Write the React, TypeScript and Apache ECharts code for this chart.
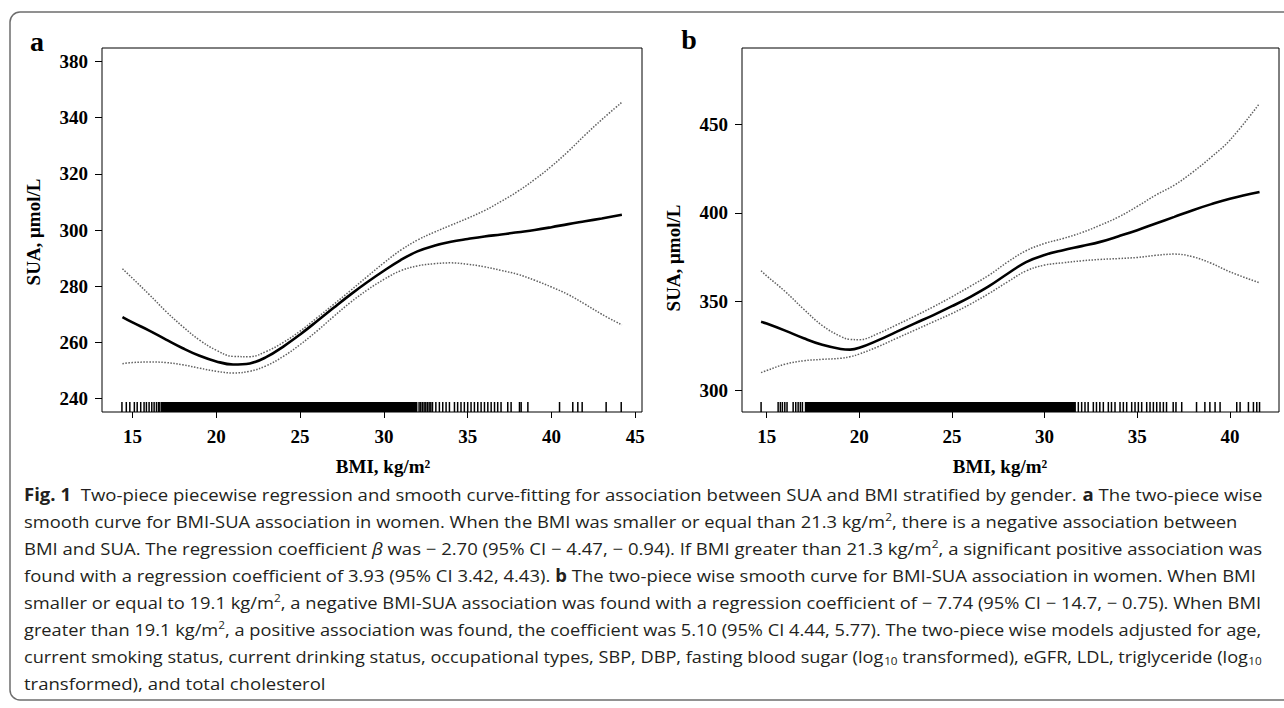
import React, { useEffect, useRef } from "react";
import * as echarts from "echarts";

// ---------- Data ----------
// Panel a (women)
const BMI_A = [14.4, 15, 16, 17, 18, 19, 20, 21, 22, 23, 24, 25, 26, 27, 28, 29, 30, 31, 32, 33, 34, 35, 36, 37, 38, 39, 40, 41, 42, 43, 44.2];
const FIT_A = [269.0, 267.1, 264.2, 261.0, 257.9, 255.2, 253.2, 252.1, 252.5, 254.8, 258.5, 262.8, 267.5, 272.3, 277.0, 281.4, 285.5, 289.3, 292.4, 294.4, 295.8, 296.8, 297.7, 298.4, 299.2, 300.0, 301.0, 302.1, 303.1, 304.1, 305.4];
const UPPER_A = [286.2, 282.8, 277.0, 271.0, 265.6, 260.8, 257.2, 255.0, 254.9, 256.8, 260.0, 264.0, 268.7, 273.5, 278.4, 283.4, 288.3, 292.8, 296.4, 299.2, 301.7, 304.2, 306.9, 310.2, 313.8, 318.0, 322.7, 328.0, 333.8, 339.3, 345.5];
const LOWER_A = [252.4, 252.8, 253.0, 252.8, 252.0, 250.8, 249.7, 249.1, 249.7, 251.7, 255.0, 259.2, 264.0, 269.2, 274.2, 278.6, 282.4, 285.5, 287.2, 288.0, 288.3, 287.8, 286.9, 285.6, 284.2, 282.1, 279.7, 277.0, 273.6, 270.0, 266.2];
const RUG_A = [14.37, 14.63, 14.84, 15.11, 15.28, 15.49, 15.69, 15.83, 15.99, 16.15, 16.29, 16.43, 16.55, 16.63,
  32.1, 32.2, 32.3, 32.4, 32.5, 32.6, 32.7, 32.8, 32.9, 33.1, 33.31, 33.51, 33.71, 33.91, 34.21, 34.4, 34.6, 34.8, 35.0, 35.2, 35.4, 35.6, 35.8, 36.0, 36.2, 36.4, 36.6, 36.79, 36.99, 37.39, 37.59, 38.09, 38.19, 38.59, 40.48, 41.27, 41.57, 41.83, 43.26, 44.16];
const RUG_BLOCK_A = [[16.7, 32.0]];
const X_TICKS_A = [15, 20, 25, 30, 35, 40, 45];
const Y_TICKS_A = [240, 260, 280, 300, 320, 340, 360];
const Y_LABELS_A = ["240", "260", "280", "300", "320", "340", "380"];

// Panel b
const BMI_B = [14.7, 15, 16, 17, 18, 19, 19.5, 20, 21, 22, 23, 24, 25, 26, 27, 28, 29, 30, 31, 32, 33, 34, 35, 36, 37, 38, 39, 40, 41.6];
const FIT_B = [338.5, 337.5, 333.5, 329.2, 325.5, 323.2, 322.8, 323.8, 328.0, 332.8, 337.6, 342.3, 347.3, 352.6, 358.6, 365.6, 372.2, 376.2, 378.9, 381.2, 383.6, 386.8, 390.2, 394.0, 397.7, 401.5, 404.9, 407.9, 411.7];
const UPPER_B = [367.3, 364.4, 355.6, 345.6, 336.4, 330.2, 328.6, 328.4, 331.8, 336.7, 341.7, 347.0, 352.6, 358.6, 364.8, 372.2, 378.6, 382.7, 385.5, 388.8, 393.0, 397.7, 403.6, 410.0, 415.6, 423.0, 431.5, 441.0, 461.7];
const LOWER_B = [309.8, 311.0, 314.6, 316.5, 317.3, 317.9, 318.8, 320.3, 324.4, 329.1, 333.8, 338.5, 343.2, 348.5, 354.5, 361.0, 367.2, 370.5, 371.8, 372.9, 373.7, 374.2, 374.8, 376.0, 376.7, 375.2, 371.5, 366.7, 360.5];
const RUG_B = [14.7, 15.62, 15.74, 15.85, 15.98, 16.1, 16.43, 16.57, 16.7, 16.82, 16.93,
  31.82, 32.0, 32.18, 32.35, 32.63, 32.8, 32.98, 33.17, 33.44, 33.61, 33.8, 34.07, 34.25, 34.43, 34.7, 34.88, 35.06, 35.24, 35.51, 35.69, 35.87, 36.05, 36.23, 36.41, 36.58, 36.94, 37.09, 37.4, 38.2, 38.65, 38.92, 39.2, 39.47, 40.37, 40.55, 41.0, 41.27, 41.45, 41.6];
const RUG_BLOCK_B = [[17.06, 31.69]];
const X_TICKS_B = [15, 20, 25, 30, 35, 40];
const Y_TICKS_B = [300, 350, 400, 450];
const Y_LABELS_B = ["300", "350", "400", "450"];

const CAPTION_LINES = [
  "{b|Fig. 1}  Two-piece piecewise regression and smooth curve-fitting for association between SUA and BMI stratified by gender. {b|a} The two-piece wise",
  "smooth curve for BMI-SUA association in women. When the BMI was smaller or equal than 21.3 kg/m{sup|2}, there is a negative association between",
  "BMI and SUA. The regression coefficient {i|β} was − 2.70 (95% CI − 4.47, − 0.94). If BMI greater than 21.3 kg/m{sup|2}, a significant positive association was",
  "found with a regression coefficient of 3.93 (95% CI 3.42, 4.43). {b|b} The two-piece wise smooth curve for BMI-SUA association in women. When BMI",
  "smaller or equal to 19.1 kg/m{sup|2}, a negative BMI-SUA association was found with a regression coefficient of − 7.74 (95% CI − 14.7, − 0.75). When BMI",
  "greater than 19.1 kg/m{sup|2}, a positive association was found, the coefficient was 5.10 (95% CI 4.44, 5.77). The two-piece wise models adjusted for age,",
  "current smoking status, current drinking status, occupational types, SBP, DBP, fasting blood sugar (log{sub|10} transformed), eGFR, LDL, triglyceride (log{sub|10}",
  "transformed), and total cholesterol",
];

// ---------- Layout / styling ----------
const CAP_LEFT = 24;
const CAP_RIGHT_EDGES = [1262, 1238, 1262, 1256, 1262, 1262, 1262, 0];
const SERIF = "'Liberation Serif', 'Times New Roman', serif";
const CAP_FONT = "'Open Sans', 'Noto Sans', sans-serif";
const CAP_SIZE = 17;
const CAP_SUB = 11;
const CAP_COLOR = "#231f20";

function fontFor(tag: string) {
  if (tag === "b") return `bold ${CAP_SIZE}px ${CAP_FONT}`;
  if (tag === "i") return `italic ${CAP_SIZE}px ${CAP_FONT}`;
  if (tag === "sup" || tag === "sub") return `${CAP_SUB}px ${CAP_FONT}`;
  return `${CAP_SIZE}px ${CAP_FONT}`;
}

function measureLine(line: string) {
  const c = document.createElement("canvas").getContext("2d");
  if (!c) return 1;
  const m = (t: string, tag: string) => {
    c.font = fontFor(tag);
    return c.measureText(t).width;
  };
  const re = /\{(\w+)\|([^}]*)\}/g;
  let last = 0;
  let w = 0;
  let r: RegExpExecArray | null;
  while ((r = re.exec(line))) {
    w += m(line.slice(last, r.index), "n");
    w += m(r[2], r[1]);
    last = re.lastIndex;
  }
  w += m(line.slice(last), "n");
  return w;
}

const zip = (xs: number[], ys: number[]) => xs.map((x, i) => [x, ys[i]]);

function makeLabelFormatter(ticks: number[], labels: string[]) {
  return (v: number) => {
    const i = ticks.findIndex((t) => Math.abs(t - v) < 1e-6);
    return i >= 0 ? labels[i] : "";
  };
}

export default function App() {
  const ref = useRef<HTMLDivElement>(null);

  useEffect(() => {
    if (!ref.current) return;
    const chart = echarts.init(ref.current, undefined, { renderer: "svg" });

    const baseScale = (CAP_RIGHT_EDGES[0] - CAP_LEFT) / measureLine(CAPTION_LINES[0]);
    const scales = CAPTION_LINES.map((line, i) =>
      CAP_RIGHT_EDGES[i] > 0 ? (CAP_RIGHT_EDGES[i] - CAP_LEFT) / measureLine(line) : baseScale
    );

    const tickLabel = {
      color: "#000",
      fontFamily: SERIF,
      fontWeight: "bold" as const,
      fontSize: 19,
    };

    const xAxisBase = (gridIndex: number, min: number, max: number, ticks: number[]) => ({
      type: "value" as const,
      gridIndex,
      min,
      max,
      axisLine: { show: false },
      splitLine: { show: false },
      axisTick: { show: true, length: 6, customValues: ticks, lineStyle: { color: "#000", width: 1 } },
      axisLabel: { ...tickLabel, margin: 15, customValues: ticks },
    });
    const yAxisBase = (gridIndex: number, min: number, max: number, ticks: number[], labels: string[]) => ({
      type: "value" as const,
      gridIndex,
      min,
      max,
      axisLine: { show: false },
      splitLine: { show: false },
      axisTick: { show: true, length: 7, customValues: ticks, lineStyle: { color: "#000", width: 1 } },
      axisLabel: { ...tickLabel, margin: 14, customValues: ticks, formatter: makeLabelFormatter(ticks, labels) },
    });

    const lineSeries = (idx: number, xs: number[], ys: number[], dotted: boolean) => ({
      type: "line" as const,
      xAxisIndex: idx,
      yAxisIndex: idx,
      data: zip(xs, ys),
      showSymbol: false,
      smooth: 0.4,
      silent: true,
      lineStyle: dotted
        ? { color: "#606060", width: 1.5, type: "dotted" as const }
        : { color: "#000", width: 2.6 },
      z: dotted ? 3 : 4,
    });

    const rugSeries = (idx: number, vals: number[], yRef: number) => ({
      type: "custom" as const,
      xAxisIndex: idx,
      yAxisIndex: idx,
      silent: true,
      data: vals.map((v) => [v, yRef]),
      encode: { x: 0, y: 1 },
      renderItem: (params: any, api: any) => {
        const cs = params.coordSys;
        const x = api.coord([api.value(0), api.value(1)])[0];
        const bottom = cs.y + cs.height;
        return {
          type: "line",
          shape: { x1: x, y1: bottom, x2: x, y2: bottom - 10 },
          style: { stroke: "#000", lineWidth: 1.5 },
        };
      },
    });

    const blockSeries = (idx: number, blocks: number[][], yRef: number) => ({
      type: "custom" as const,
      xAxisIndex: idx,
      yAxisIndex: idx,
      silent: true,
      data: blocks.map((b) => [b[0], b[1], yRef]),
      encode: { x: [0, 1], y: 2 },
      renderItem: (params: any, api: any) => {
        const cs = params.coordSys;
        const x1 = api.coord([api.value(0), api.value(2)])[0];
        const x2 = api.coord([api.value(1), api.value(2)])[0];
        const bottom = cs.y + cs.height;
        return {
          type: "rect",
          shape: { x: x1, y: bottom - 10, width: x2 - x1, height: 10 },
          style: { fill: "#000" },
        };
      },
    });

    const axisTitle = {
      fontFamily: SERIF,
      fontWeight: "bold",
      fontSize: 19,
      fill: "#000",
      align: "center",
      verticalAlign: "middle",
    };

    const capRich = {
      b: { fontFamily: CAP_FONT, fontSize: CAP_SIZE, fontWeight: "bold", lineHeight: 20, fill: CAP_COLOR },
      i: { fontFamily: CAP_FONT, fontSize: CAP_SIZE, fontStyle: "italic", lineHeight: 20, fill: CAP_COLOR },
      sup: { fontFamily: CAP_FONT, fontSize: CAP_SUB, lineHeight: 8, verticalAlign: "top", fill: CAP_COLOR },
      sub: { fontFamily: CAP_FONT, fontSize: CAP_SUB, lineHeight: 8, verticalAlign: "bottom", fill: CAP_COLOR },
    };

    const captionEls = CAPTION_LINES.map((line, i) => ({
      type: "text",
      x: CAP_LEFT,
      y: 494 + i * 27,
      scaleX: scales[i],
      silent: true,
      style: {
        text: line,
        fontFamily: CAP_FONT,
        fontSize: CAP_SIZE,
        lineHeight: 20,
        fill: CAP_COLOR,
        align: "left",
        verticalAlign: "middle",
        rich: capRich,
      },
    }));

    chart.setOption({
      animation: false,
      backgroundColor: "#fff",
      grid: [
        { left: 102, top: 48, width: 540, height: 364, show: true, borderColor: "#000", borderWidth: 1, backgroundColor: "transparent", outerBoundsMode: "none" },
        { left: 742, top: 48, width: 537, height: 364, show: true, borderColor: "#000", borderWidth: 1, backgroundColor: "transparent", outerBoundsMode: "none" },
      ],
      xAxis: [xAxisBase(0, 13.18, 45.4, X_TICKS_A), xAxisBase(1, 13.67, 42.65, X_TICKS_B)],
      yAxis: [
        yAxisBase(0, 235.2, 364.8, Y_TICKS_A, Y_LABELS_A),
        yAxisBase(1, 287.6, 493.0, Y_TICKS_B, Y_LABELS_B),
      ],
      series: [
        blockSeries(0, RUG_BLOCK_A, 240),
        rugSeries(0, RUG_A, 240),
        lineSeries(0, BMI_A, UPPER_A, true),
        lineSeries(0, BMI_A, LOWER_A, true),
        lineSeries(0, BMI_A, FIT_A, false),
        blockSeries(1, RUG_BLOCK_B, 300),
        rugSeries(1, RUG_B, 300),
        lineSeries(1, BMI_B, UPPER_B, true),
        lineSeries(1, BMI_B, LOWER_B, true),
        lineSeries(1, BMI_B, FIT_B, false),
      ],
      graphic: [
        {
          type: "rect",
          silent: true,
          z: -10,
          shape: { x: 10, y: 12, width: 1300, height: 688, r: 10 },
          style: { fill: "none", stroke: "#6d6d6d", lineWidth: 1.5 },
        },
        { type: "text", x: 37, y: 41, silent: true, style: { ...axisTitle, text: "a", fontSize: 28 } },
        { type: "text", x: 689, y: 39, silent: true, style: { ...axisTitle, text: "b", fontSize: 28 } },
        { type: "text", x: 33, y: 232, rotation: Math.PI / 2, silent: true, style: { ...axisTitle, text: "SUA, μmol/L" } },
        { type: "text", x: 673, y: 258, rotation: Math.PI / 2, silent: true, style: { ...axisTitle, text: "SUA, μmol/L" } },
        { type: "text", x: 383, y: 466, silent: true, style: { ...axisTitle, text: "BMI, kg/m²" } },
        { type: "text", x: 1000, y: 466, silent: true, style: { ...axisTitle, text: "BMI, kg/m²" } },
        ...captionEls,
      ],
    });

    return () => chart.dispose();
  }, []);

  return (
    <div
      ref={ref}
      style={{ position: "fixed", left: 0, top: 0, width: 1284, height: 708, background: "#fff" }}
    />
  );
}
